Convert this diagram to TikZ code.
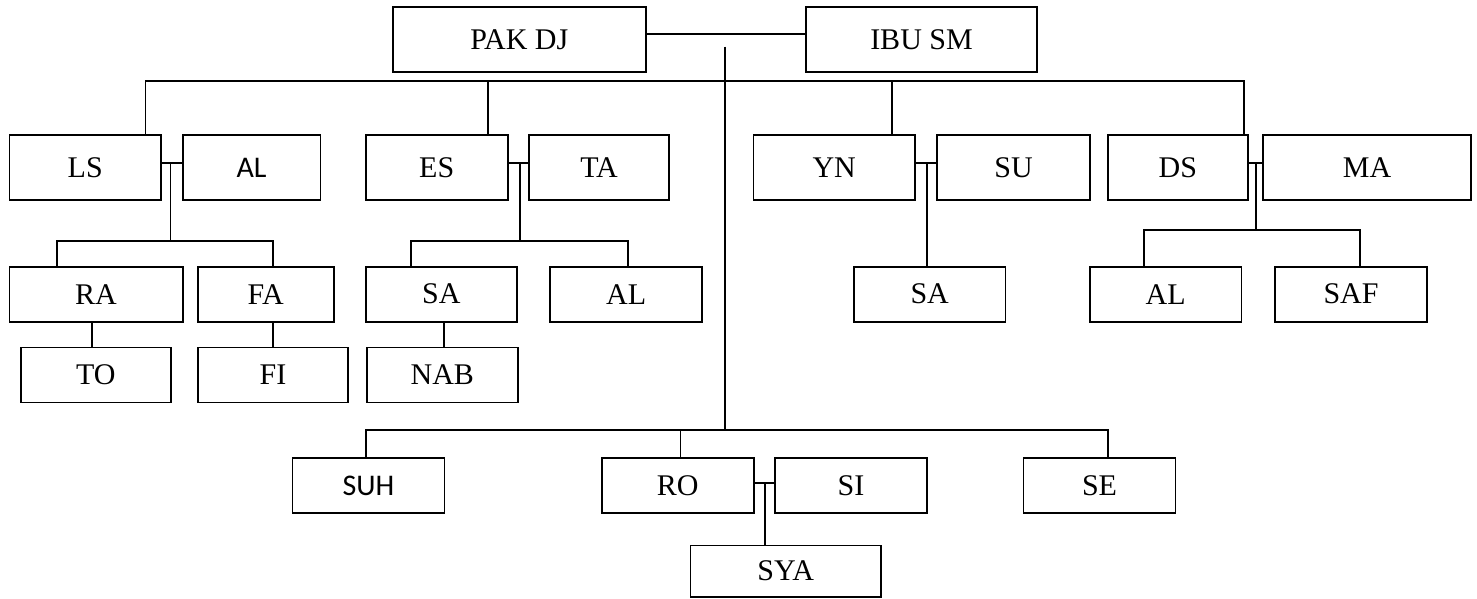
\documentclass[tikz,border=0pt]{standalone}
\usepackage{fontspec}
\setmainfont{Liberation Serif}
\newfontfamily\calibrifont{Carlito}
\usetikzlibrary{positioning,calc}
\tikzset{
  pbox/.style={draw,inner sep=0pt,font=\fontsize{30}{35}\selectfont},
  tallbox/.style={pbox,minimum height=65pt},
  lowbox/.style={pbox,minimum height=55pt},
}

\begin{document}
\begin{tikzpicture}[x=1pt,y=-1pt,line width=1.8pt]
  \useasboundingbox (0,0) rectangle (1477,598);
  % parents
  \node[pbox,minimum width=252.6pt,minimum height=65.6pt] (pak) at (519.3,39.5) {PAK DJ};
  \node[pbox,minimum width=230.3pt,minimum height=65.6pt] (ibu) at (921.5,39.5) {IBU SM};
  % children and spouses
  \node[tallbox,minimum width=151.6pt] (ls) at (85.2,167.5) {LS};
  \node[tallbox,minimum width=137.8pt,font=\calibrifont\fontsize{30}{35}\selectfont] (al1) at (251.5,167.5) {AL};
  \node[tallbox,minimum width=142.1pt] (es) at (436.7,167.5) {ES};
  \node[tallbox,minimum width=140.2pt] (ta) at (599.1,167.5) {TA};
  \node[tallbox,minimum width=161.5pt] (yn) at (834.2,167.5) {YN};
  \node[tallbox,minimum width=153pt] (su) at (1013.5,167.5) {SU};
  \node[tallbox,minimum width=139.6pt] (ds) at (1177.8,167.5) {DS};
  \node[tallbox,minimum width=207.6pt] (ma) at (1367,167.5) {MA};
  % grandchildren
  \node[lowbox,minimum width=173.2pt] (ra) at (96,294.2) {RA};
  \node[lowbox,minimum width=136.3pt] (fa) at (265.8,294.2) {FA};
  \node[lowbox,minimum width=151.5pt] (sa1) at (441.4,294.2) {SA};
  \node[lowbox,minimum width=151.9pt] (al2) at (626.2,294.2) {AL};
  \node[lowbox,minimum width=151.5pt] (sa2) at (929.7,294.2) {SA};
  \node[lowbox,minimum width=151.5pt] (al3) at (1165.7,294.2) {AL};
  \node[lowbox,minimum width=152pt] (saf) at (1351,294.2) {SAF};
  \node[lowbox,minimum width=150pt] (to) at (95.8,375) {TO};
  \node[lowbox,minimum width=150.6pt] (fi) at (273,375) {FI};
  \node[lowbox,minimum width=150.7pt] (nab) at (442.3,375) {NAB};
  % lower branch
  \node[lowbox,minimum width=152pt,font=\calibrifont\fontsize{30}{35}\selectfont] (suh) at (368.5,485.5) {SUH};
  \node[lowbox,minimum width=152.3pt] (ro) at (677.8,485.5) {RO};
  \node[lowbox,minimum width=152.4pt] (si) at (851,485.5) {SI};
  \node[lowbox,minimum width=152pt] (se) at (1099.5,485.5) {SE};
  \node[pbox,minimum width=190.6pt,minimum height=51.2pt] (sya) at (785.7,571) {SYA};

  % marriage lines and junctions
  \coordinate (m0) at (725.3,34.3);
  \coordinate (j1) at (170.4,163.3);
  \coordinate (j2) at (519.6,163.3);
  \coordinate (j3) at (926.7,163.3);
  \coordinate (j4) at (1256,163.3);
  \coordinate (j5) at (765.3,482.7);
  \draw (pak.east |- m0) -- (ibu.west |- m0);
  \draw (ls.east |- j1) -- (al1.west |- j1);
  \draw (es.east |- j2) -- (ta.west |- j2);
  \draw (yn.east |- j3) -- (su.west |- j3);
  \draw (ds.east |- j4) -- (ma.west |- j4);
  \draw (ro.east |- j5) -- (si.west |- j5);

  % upper bus
  \coordinate (ba) at (145.4,81);
  \coordinate (bb) at (1244.3,81);
  \draw (ls.north -| ba) -- (ba) -- (bb) -- (ds.north -| bb);
  \draw (488,81) -- (es.north -| 488,0);
  \draw (891.8,81) -- (yn.north -| 891.8,0);
  % trunk and lower bus
  \coordinate (tr) at (725.3,46.7);
  \coordinate (la) at (365.7,430);
  \coordinate (lb) at (1108,430);
  \draw (tr) -- (tr |- la);
  \draw (suh.north -| la) -- (la) -- (lb) -- (se.north -| lb);
  \draw (680.5,430) -- (ro.north -| 680.5,0);
  \draw (j5) -- (sya.north -| j5);

  % LS + AL
  \draw (j1) -- (170.4,241);
  \draw (ra.north -| 57,0) -- (57,241) -- (272.8,241) -- (fa.north -| 272.8,0);
  \draw (ra.south -| 92,0) -- (to.north -| 92,0);
  \draw (fa.south -| 272.8,0) -- (fi.north -| 272.8,0);
  % ES + TA
  \draw (j2) -- (519.6,241);
  \draw (sa1.north -| 411,0) -- (411,241) -- (627.7,241) -- (al2.north -| 627.7,0);
  \draw (sa1.south -| 444,0) -- (nab.north -| 444,0);
  % YN + SU
  \draw (j3) -- (sa2.north -| j3);
  % DS + MA
  \draw (j4) -- (1256,230);
  \draw (al3.north -| 1143.8,0) -- (1143.8,230) -- (1360,230) -- (saf.north -| 1360,0);
\end{tikzpicture}
\end{document}
